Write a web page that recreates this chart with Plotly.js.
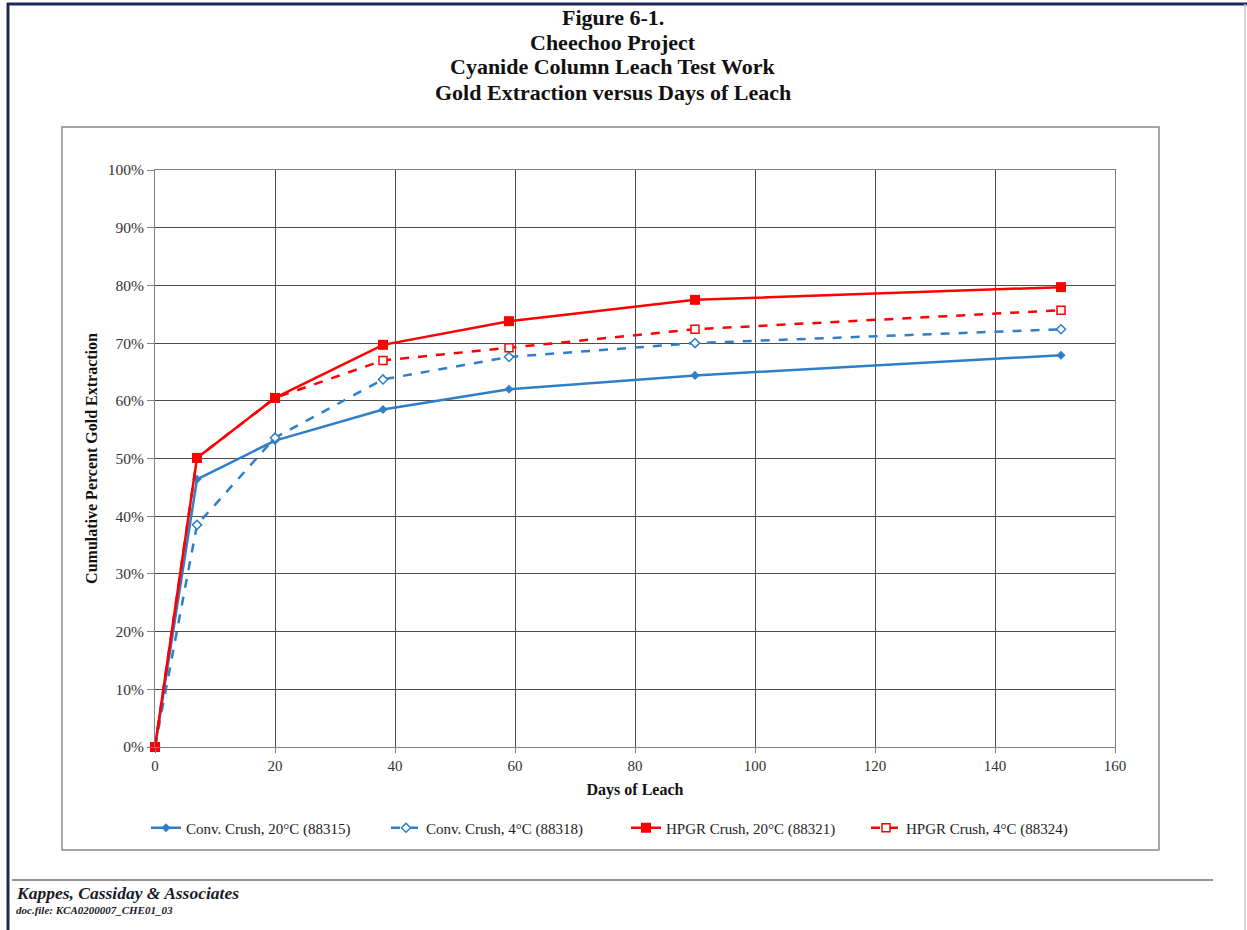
<!DOCTYPE html>
<html>
<head>
<meta charset="utf-8">
<script src="https://cdn.plot.ly/plotly-3.0.1.min.js"></script>
<style>
  html, body { margin: 0; padding: 0; background: #ffffff; }
  #chart { width: 1247px; height: 930px; }
</style>
</head>
<body>
<div id="chart"></div>
<script>
// ---- Data ----
const days = [0, 7, 20, 38, 59, 90, 151];
const convCrush20 = [0, 46.4, 53.1, 58.5, 62.0, 64.4, 67.9];
const convCrush4  = [0, 38.5, 53.6, 63.7, 67.6, 70.0, 72.4];
const hpgrCrush20 = [0, 50.1, 60.5, 69.7, 73.8, 77.5, 79.7];
const hpgrCrush4  = [0, 50.1, 60.5, 67.0, 69.2, 72.4, 75.7];

const seriesNames = [
  "Conv. Crush, 20°C (88315)",
  "Conv. Crush, 4°C (88318)",
  "HPGR Crush, 20°C (88321)",
  "HPGR Crush, 4°C (88324)"
];
const titleLines = [
  "Figure 6-1.",
  "Cheechoo Project",
  "Cyanide Column Leach Test Work",
  "Gold Extraction versus Days of Leach"
];
const xTicks = [0, 20, 40, 60, 80, 100, 120, 140, 160];
const yTicks = [0, 10, 20, 30, 40, 50, 60, 70, 80, 90, 100];

// ---- Layout geometry ----
const W = 1247, H = 930;
const M = { l: 155, r: 132, t: 170, b: 183 };
const PW = W - M.l - M.r, PH = H - M.t - M.b;
const px = x => (x - M.l) / PW;          // page px -> paper x
const py = y => (H - M.b - y) / PH;      // page px -> paper y

const BLUE = "#2f7fc8";
const RED = "#ff0000";
const SERIF = "Liberation Serif";

// drawing order: dashed HPGR below solid HPGR so filled squares stay on top
const traces = [
  { x: days, y: convCrush20, name: seriesNames[0], legendrank: 1, type: "scatter", mode: "lines+markers",
    line: { color: BLUE, width: 2.5 },
    marker: { symbol: "diamond", size: 7, color: BLUE } },
  { x: days, y: convCrush4, name: seriesNames[1], legendrank: 2, type: "scatter", mode: "lines+markers",
    line: { color: BLUE, width: 2.5, dash: "dash" },
    marker: { symbol: "diamond", size: 7, color: "#ffffff", line: { color: BLUE, width: 1.5 } } },
  { x: days, y: hpgrCrush4, name: seriesNames[3], legendrank: 4, type: "scatter", mode: "lines+markers",
    line: { color: RED, width: 2.5, dash: "dash" },
    marker: { symbol: "square", size: 8, color: "#ffffff", line: { color: RED, width: 1.5 } } },
  { x: days, y: hpgrCrush20, name: seriesNames[2], legendrank: 3, type: "scatter", mode: "lines+markers",
    line: { color: RED, width: 2.5 },
    marker: { symbol: "square", size: 10, color: RED } }
];
traces.forEach(t => t.cliponaxis = false);

const titleAnnotations = titleLines.map((t, i) => ({
  text: "<b>" + t + "</b>", xref: "paper", yref: "paper",
  x: px(613), y: py(17 + 25 * i), xanchor: "center", yanchor: "middle", showarrow: false,
  font: { family: SERIF, size: 22, color: "#111111" }
}));

const layout = {
  width: W, height: H,
  margin: M,
  paper_bgcolor: "#ffffff",
  plot_bgcolor: "#ffffff",
  font: { family: SERIF, color: "#222222", size: 13 },
  showlegend: true,
  xaxis: {
    range: [0, 160], tickvals: xTicks, ticktext: xTicks.map(String),
    showgrid: true, gridcolor: "#4d4d4d", gridwidth: 1,
    showline: true, linecolor: "#808080", linewidth: 1, mirror: true,
    ticks: "outside", ticklen: 5, tickcolor: "#808080",
    zeroline: false,
    tickfont: { family: SERIF, size: 15, color: "#333333" },
    title: { text: "<b>Days of Leach</b>", font: { family: SERIF, size: 16, color: "#111111" }, standoff: 10 }
  },
  yaxis: {
    range: [0, 100], tickvals: yTicks, ticktext: yTicks.map(v => v + "%"),
    showgrid: true, gridcolor: "#4d4d4d", gridwidth: 1,
    showline: true, linecolor: "#808080", linewidth: 1, mirror: true,
    ticks: "outside", ticklen: 7, tickcolor: "#808080",
    zeroline: false,
    tickfont: { family: SERIF, size: 15.5, color: "#333333" },
    title: { text: "<b>Cumulative Percent Gold Extraction</b>", font: { family: SERIF, size: 16, color: "#111111" }, standoff: 6 }
  },
  legend: {
    orientation: "h",
    xref: "container", yref: "container",
    x: 146 / W, xanchor: "left",
    y: 1 - 828 / H, yanchor: "middle",
    entrywidth: 195, entrywidthmode: "pixels",
    traceorder: "normal",
    font: { family: SERIF, size: 15, color: "#222222" },
    bgcolor: "rgba(0,0,0,0)"
  },
  shapes: [
    // chart area frame
    { type: "rect", xref: "paper", yref: "paper", x0: px(62), x1: px(1159), y0: py(850), y1: py(127),
      line: { color: "#8a8a8a", width: 1.5 }, fillcolor: "rgba(0,0,0,0)", layer: "below" },
    // footer rule
    { type: "line", xref: "paper", yref: "paper", x0: px(12), x1: px(1213), y0: py(880), y1: py(880),
      line: { color: "#707070", width: 1.5 } },
    // page frame (navy) left and top
    { type: "line", xref: "paper", yref: "paper", x0: px(8), x1: px(8), y0: py(930), y1: py(3),
      line: { color: "#1c2b57", width: 3 } },
    { type: "line", xref: "paper", yref: "paper", x0: px(7), x1: px(1247), y0: py(4), y1: py(4),
      line: { color: "#1c2b57", width: 3 } },
    // page frame right (light grey)
    { type: "line", xref: "paper", yref: "paper", x0: px(1245), x1: px(1245), y0: py(930), y1: py(4),
      line: { color: "#c8c8c8", width: 1.5 } }
  ],
  annotations: titleAnnotations.concat([
    { text: "<b><i>Kappes, Cassiday &amp; Associates</i></b>", xref: "paper", yref: "paper",
      x: px(14), y: py(893), xanchor: "left", yanchor: "middle", showarrow: false,
      font: { family: SERIF, size: 17.5, color: "#1a1a2a" } },
    { text: "<b><i>doc.file: KCA0200007_CHE01_03</i></b>", xref: "paper", yref: "paper",
      x: px(14), y: py(910), xanchor: "left", yanchor: "middle", showarrow: false,
      font: { family: SERIF, size: 11, color: "#1a1a2a" } }
  ])
};

Plotly.newPlot("chart", traces, layout, { displayModeBar: false, staticPlot: true });
</script>
</body>
</html>
